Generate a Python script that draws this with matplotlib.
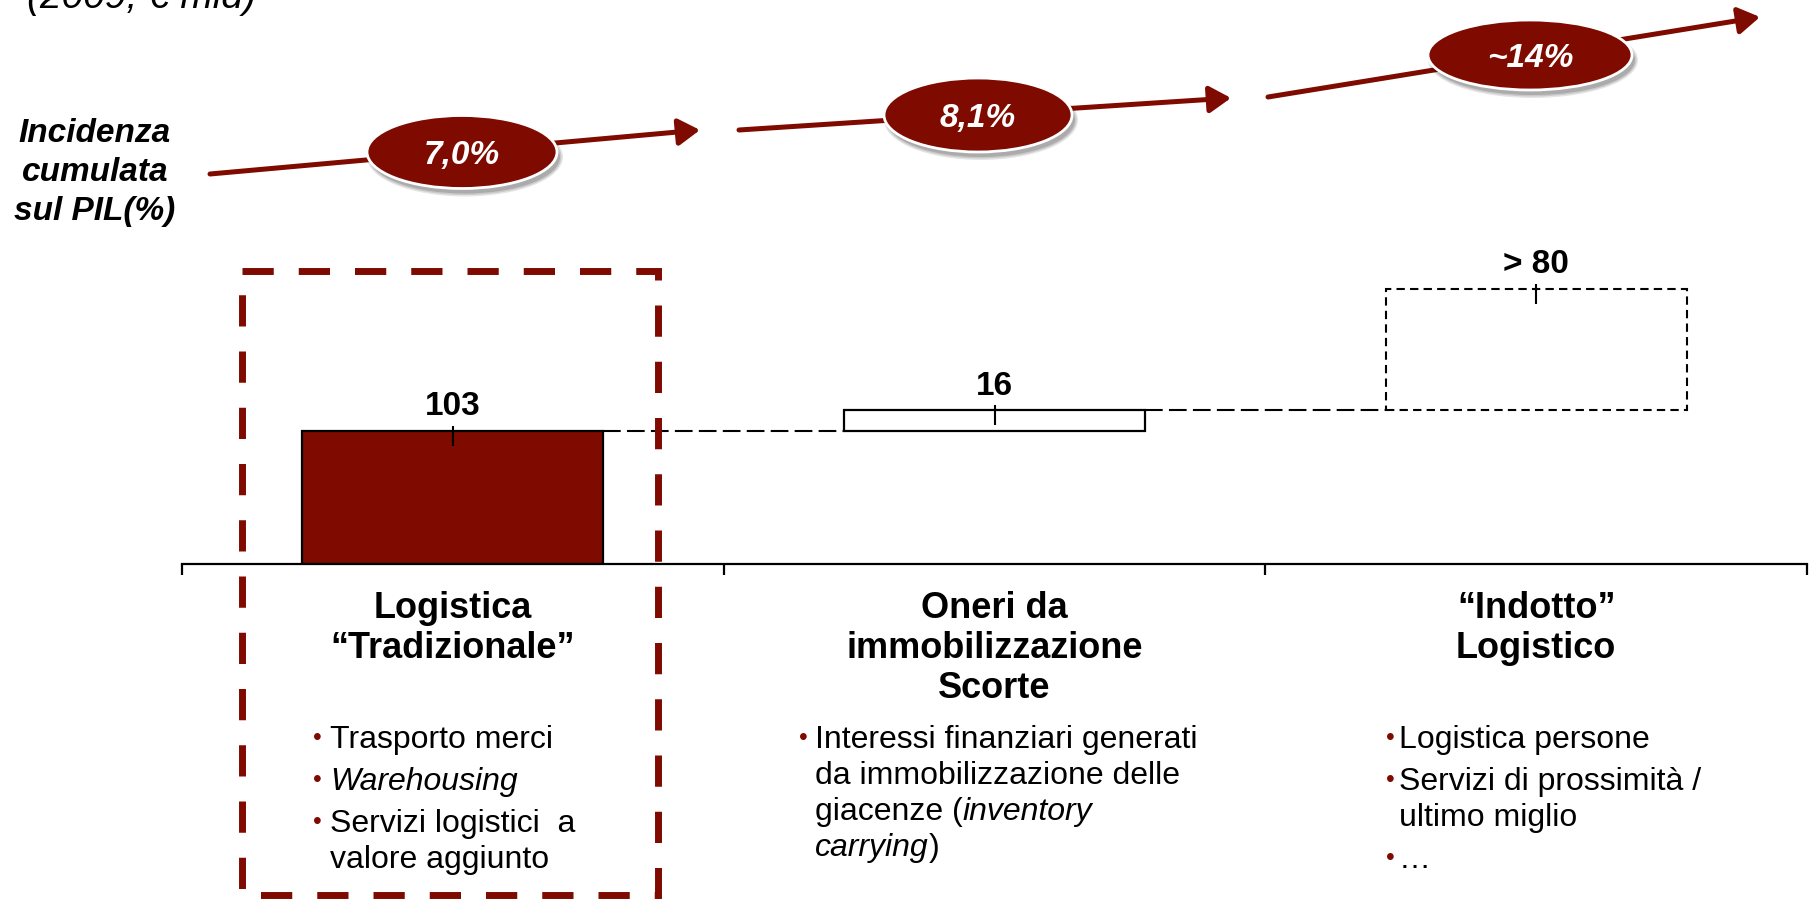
import matplotlib
matplotlib.use("Agg")
import matplotlib.pyplot as plt
from matplotlib.patches import Ellipse, Rectangle, FancyArrowPatch
from matplotlib.path import Path
from matplotlib.transforms import blended_transform_factory

plt.rcParams['font.family'] = ['Liberation Sans', 'DejaVu Sans']

# --- data ---
categories = [['Logistica', '“Tradizionale”'],
              ['Oneri da', 'immobilizzazione', 'Scorte'],
              ['“Indotto”', 'Logistico']]
values = [103, 16, 94]          # € mld (last one shown as "> 80")
value_labels = ['103', '16', '> 80']
incidence = ['7,0%', '8,1%', '~14%']

# bullets: column -> bullet -> line -> runs of (text, italic)
bullets_col1 = [
    [[('Trasporto merci', False)]],
    [[('Warehousing', True)]],
    [[('Servizi logistici  a', False)], [('valore aggiunto', False)]],
]
bullets_col2 = [
    [[('Interessi finanziari generati', False)],
     [('da immobilizzazione delle', False)],
     [('giacenze (', False), ('inventory', True)],
     [('carrying', True), (')', False)]],
]
bullets_col3 = [
    [[('Logistica persone', False)]],
    [[('Servizi di prossimità /', False)], [('ultimo miglio', False)]],
    [[('…', False)]],
]
bullets = [bullets_col1, bullets_col2, bullets_col3]

RED = '#7f0a00'
W, H = 1814, 901

fig = plt.figure(figsize=(W / 100, H / 100), dpi=100)

# main waterfall axes
ax = fig.add_axes([182 / W, (H - 564) / H, 1625 / W, 330 / H])
ax.set_xlim(-0.5, 2.5)
ax.set_ylim(0, 330 / 1.29)
ax.patch.set_alpha(0)
for s in ['left', 'top', 'right']:
    ax.spines[s].set_visible(False)
ax.spines['bottom'].set_linewidth(1.6)
ax.set_yticks([])
ax.set_xticks([-0.5, 0.5, 1.5, 2.5])
ax.set_xticklabels([])
ax.tick_params(axis='x', direction='out', length=8, width=1.6)

bw = 0.556
x = [0, 1, 2]
bottoms = [0, values[0], values[0] + values[1]]
tops = [b + v for b, v in zip(bottoms, values)]

ax.bar(x[0], values[0], bottom=bottoms[0], width=bw, color=RED,
       edgecolor='black', linewidth=1.6)
ax.bar(x[1], values[1], bottom=bottoms[1], width=bw, color='white',
       edgecolor='black', linewidth=1.6)
ax.bar(x[2], values[2], bottom=bottoms[2], width=bw, fill=False,
       edgecolor='black', linewidth=1.5, linestyle=(0, (4, 2.5)))

# dashed connectors
ax.plot([x[0] + bw / 2, x[1] - bw / 2], [tops[0], tops[0]], color='black',
        lw=1.5, dashes=(8.5, 3))
ax.plot([x[1] + bw / 2, x[2] - bw / 2], [tops[1], tops[1]], color='black',
        lw=1.5, dashes=(8.5, 3))

# little tick on each bar top
tick = Path([(0, 1), (0, -3)], [Path.MOVETO, Path.LINETO])
ax.plot(x, tops, linestyle='none', marker=tick, markersize=21.6,
        markeredgewidth=1.5, color='black')

for xi, top, lab in zip(x, tops, value_labels):
    ax.annotate(lab, xy=(xi, top), xytext=(0, 11.5), textcoords='offset points',
                ha='center', va='baseline', fontsize=24, fontweight='bold')

# overlay in pixel coordinates (origin top-left)
ov = fig.add_axes([0, 0, 1, 1], zorder=5)
ov.set_xlim(0, W)
ov.set_ylim(H, 0)
ov.axis('off')
ov.patch.set_alpha(0)

ov.text(27, 8, '(2009, € mld)', fontsize=28, style='italic', va='baseline')

for line, yy in zip(['Incidenza', 'cumulata', 'sul PIL(%)'], [142, 181, 220]):
    ov.text(95, yy, line, fontsize=24, fontweight='bold', style='italic',
            ha='center', va='baseline')

# incidence arrows and ellipses
arrows = [((210, 174), (700, 130)), ((739, 130), (1231, 98)), ((1268, 97), (1760, 17))]
ells = [(462, 152, 190, 73), (978, 115, 188, 74), (1530, 55, 204, 70)]
for (p0, p1), (cx, cy, ew, eh), lab in zip(arrows, ells, incidence):
    ov.add_patch(FancyArrowPatch(p0, p1, arrowstyle='-|>,head_length=1.0,head_width=0.62',
                                 mutation_scale=13, color=RED, lw=3.6,
                                 shrinkA=0, shrinkB=0, zorder=2))
    for k, a in enumerate([0.10, 0.12, 0.15]):
        ov.add_patch(Ellipse((cx + 3, cy + 5), ew + 6 - 3 * k, eh + 6 - 3 * k,
                             facecolor='black', edgecolor='none', alpha=a, zorder=3))
    ov.add_patch(Ellipse((cx, cy), ew, eh, facecolor=RED, edgecolor='white',
                         lw=2, zorder=4))
    ov.text(cx, cy + 12, lab, color='white', fontsize=24, fontweight='bold',
            style='italic', ha='center', va='baseline', zorder=5)

# category headers centred on the categories
hdr = blended_transform_factory(ax.transData, ov.transData)
for xi, lines in zip(x, categories):
    for j, line in enumerate(lines):
        ov.text(xi, 618 + 40 * j, line, transform=hdr, fontsize=26,
                fontweight='bold', ha='center', va='baseline')

# bullet lists
renderer = fig.canvas.get_renderer()
text_x = [330, 815, 1399]
dot_x = [317, 803, 1390]
for col, tx, dx in zip(bullets, text_x, dot_x):
    yy = 748
    for item in col:
        ov.text(dx, yy - 3, '•', color=RED, fontsize=18, ha='center', va='baseline')
        for line in item:
            xx = tx
            for txt, it in line:
                t = ov.text(xx, yy, txt, fontsize=23, style='italic' if it else 'normal',
                            ha='left', va='baseline')
                xx += t.get_window_extent(renderer).width
            yy += 36
        yy += 6

# highlight box around the first category
ov.add_patch(Rectangle((242, 271), 416, 624, fill=False, edgecolor=RED, lw=5,
                       linestyle=(0, (4.5, 3.6)), zorder=6))

fig.savefig('out.png', dpi=100)
